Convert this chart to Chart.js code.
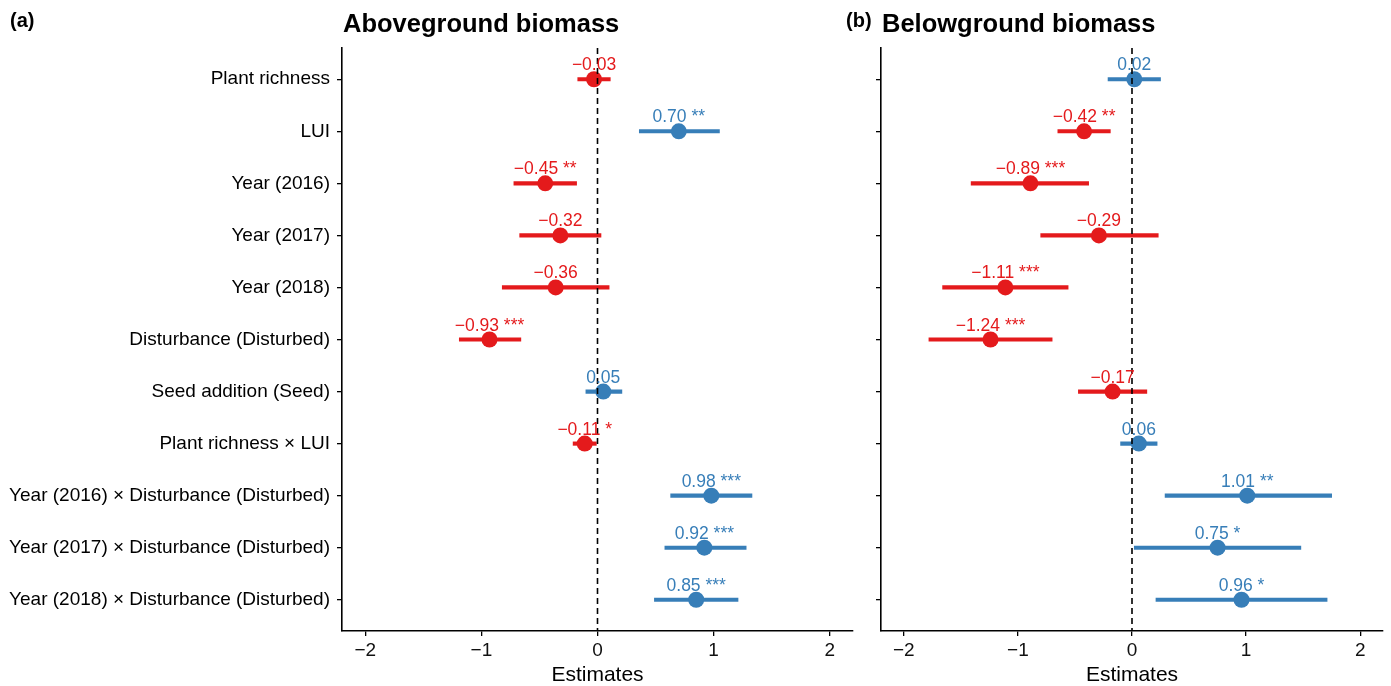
<!DOCTYPE html>
<html>
<head>
<meta charset="utf-8">
<script src="https://cdn.jsdelivr.net/npm/chart.js@4"></script>
<style>
  html, body { margin: 0; padding: 0; background: #fff; }
  #wrap { position: relative; width: 1391px; height: 686px; overflow: hidden; }
  canvas { position: absolute; top: 0; }
</style>
</head>
<body>
<div id="wrap">
  <canvas id="above" width="866" height="686" style="left:0px"></canvas>
  <canvas id="below" width="551" height="686" style="left:840px"></canvas>
</div>
<script>
const categories = [
  "Plant richness",
  "LUI",
  "Year (2016)",
  "Year (2017)",
  "Year (2018)",
  "Disturbance (Disturbed)",
  "Seed addition (Seed)",
  "Plant richness \u00d7 LUI",
  "Year (2016) \u00d7 Disturbance (Disturbed)",
  "Year (2017) \u00d7 Disturbance (Disturbed)",
  "Year (2018) \u00d7 Disturbance (Disturbed)"
];
const xTicks = [-2, -1, 0, 1, 2];

// aboveground biomass
const aboveEst = [-0.03, 0.70, -0.45, -0.32, -0.36, -0.93, 0.05, -0.11, 0.98, 0.92, 0.85];
const aboveLo  = [-0.17, 0.36, -0.72, -0.67, -0.82, -1.19, -0.10, -0.21, 0.63, 0.58, 0.49];
const aboveHi  = [0.11, 1.05, -0.18, 0.03, 0.10, -0.66, 0.21, -0.01, 1.33, 1.28, 1.21];
const aboveSig = ["", "**", "**", "", "", "***", "", "*", "***", "***", "***"];

// belowground biomass
const belowEst = [0.02, -0.42, -0.89, -0.29, -1.11, -1.24, -0.17, 0.06, 1.01, 0.75, 0.96];
const belowLo  = [-0.21, -0.65, -1.41, -0.80, -1.66, -1.78, -0.47, -0.10, 0.29, 0.02, 0.21];
const belowHi  = [0.25, -0.19, -0.38, 0.23, -0.56, -0.70, 0.13, 0.22, 1.75, 1.48, 1.71];
const belowSig = ["", "**", "***", "", "***", "***", "", "", "**", "*", "*"];

const RED = "#e41a1c";
const BLUE = "#377eb8";
const FONT = "'Liberation Sans', Arial, Helvetica, sans-serif";

function fmt(v) {
  const s = Math.abs(v).toFixed(2);
  return v < 0 ? "\u2212" + s : s;
}

const labelPlugin = {
  id: "estLabels",
  afterDatasetsDraw(chart, args, opts) {
    const meta = chart.getDatasetMeta(1);
    const ctx = chart.ctx;
    ctx.save();
    ctx.font = "17.5px " + FONT;
    ctx.textAlign = "center";
    ctx.textBaseline = "alphabetic";
    meta.data.forEach((pt, i) => {
      ctx.fillStyle = opts.colors[i];
      const txt = fmt(opts.est[i]) + (opts.sig[i] ? " " + opts.sig[i] : "");
      ctx.fillText(txt, pt.x, pt.y - 9);
    });
    ctx.restore();
  }
};

const titlePlugin = {
  id: "panelTitle",
  afterDraw(chart, args, opts) {
    const ctx = chart.ctx;
    ctx.save();
    ctx.fillStyle = "#000";
    ctx.textBaseline = "alphabetic";
    ctx.textAlign = "left";
    ctx.font = "bold 20px " + FONT;
    ctx.fillText(opts.tag, opts.tagX, 27);
    ctx.font = "bold 25.5px " + FONT;
    ctx.fillText(opts.text, chart.chartArea.left + 1, 32);
    ctx.restore();
  }
};

function makePanel(id, est, lo, hi, sig, title, tag, tagX, yWidth, padRight, showLabels) {
  const colors = est.map(v => v < 0 ? RED : BLUE);
  new Chart(document.getElementById(id), {
    type: "scatter",
    data: {
      datasets: [
        {
          type: "line",
          data: [{ x: 0, y: -0.6 }, { x: 0, y: 10.6 }],
          borderColor: "#000",
          borderWidth: 1.6,
          borderDash: [6, 4],
          pointRadius: 0,
          order: 0
        },
        {
          type: "scatter",
          data: est.map((v, i) => ({ x: v, y: i })),
          pointBackgroundColor: colors,
          pointBorderWidth: 0,
          pointRadius: 8,
          pointHoverRadius: 8,
          order: 1
        },
        {
          type: "bar",
          indexAxis: "y",
          data: lo.map((l, i) => ({ x: [l, hi[i]], y: i })),
          backgroundColor: colors,
          barThickness: 3.5,
          order: 2
        }
      ]
    },
    options: {
      responsive: false,
      animation: false,
      devicePixelRatio: 1,
      layout: { padding: { top: 48, right: padRight, left: 0, bottom: 0 } },
      plugins: {
        legend: { display: false },
        tooltip: { enabled: false },
        estLabels: { est: est, sig: sig, colors: colors },
        panelTitle: { text: title, tag: tag, tagX: tagX }
      },
      scales: {
        x: {
          type: "linear",
          min: -2.2,
          max: 2.2,
          offset: false,
          afterBuildTicks: s => { s.ticks = xTicks.map(v => ({ value: v })); },
          afterFit: s => { s.height = 55; },
          ticks: {
            callback: v => (v < 0 ? "\u2212" + Math.abs(v) : "" + v),
            font: { family: FONT, size: 19 },
            color: "#111",
            padding: 3
          },
          grid: { offset: false, drawOnChartArea: false, drawTicks: true, tickLength: 5, color: "#000", lineWidth: 1.3 },
          border: { color: "#000", width: 1.6 },
          title: {
            display: true,
            text: "Estimates",
            font: { family: FONT, size: 21 },
            color: "#000",
            padding: { top: 0, bottom: -2 }
          }
        },
        y: {
          type: "linear",
          min: -0.6,
          max: 10.6,
          reverse: true,
          offset: false,
          afterBuildTicks: s => { s.ticks = categories.map((c, i) => ({ value: i })); },
          afterFit: s => { s.width = yWidth; },
          ticks: {
            display: showLabels,
            callback: (v, i) => categories[i],
            font: { family: FONT, size: 19 },
            color: "#000",
            padding: 7
          },
          grid: { offset: false, drawOnChartArea: false, drawTicks: true, tickLength: 5, color: "#000", lineWidth: 1.3 },
          border: { color: "#000", width: 1.6 }
        }
      }
    },
    plugins: [labelPlugin, titlePlugin]
  });
}

makePanel("above", aboveEst, aboveLo, aboveHi, aboveSig, "Aboveground biomass", "(a)", 10, 342, 13, true);
makePanel("below", belowEst, belowLo, belowHi, belowSig, "Belowground biomass", "(b)", 6, 41, 8, false);
</script>
</body>
</html>
